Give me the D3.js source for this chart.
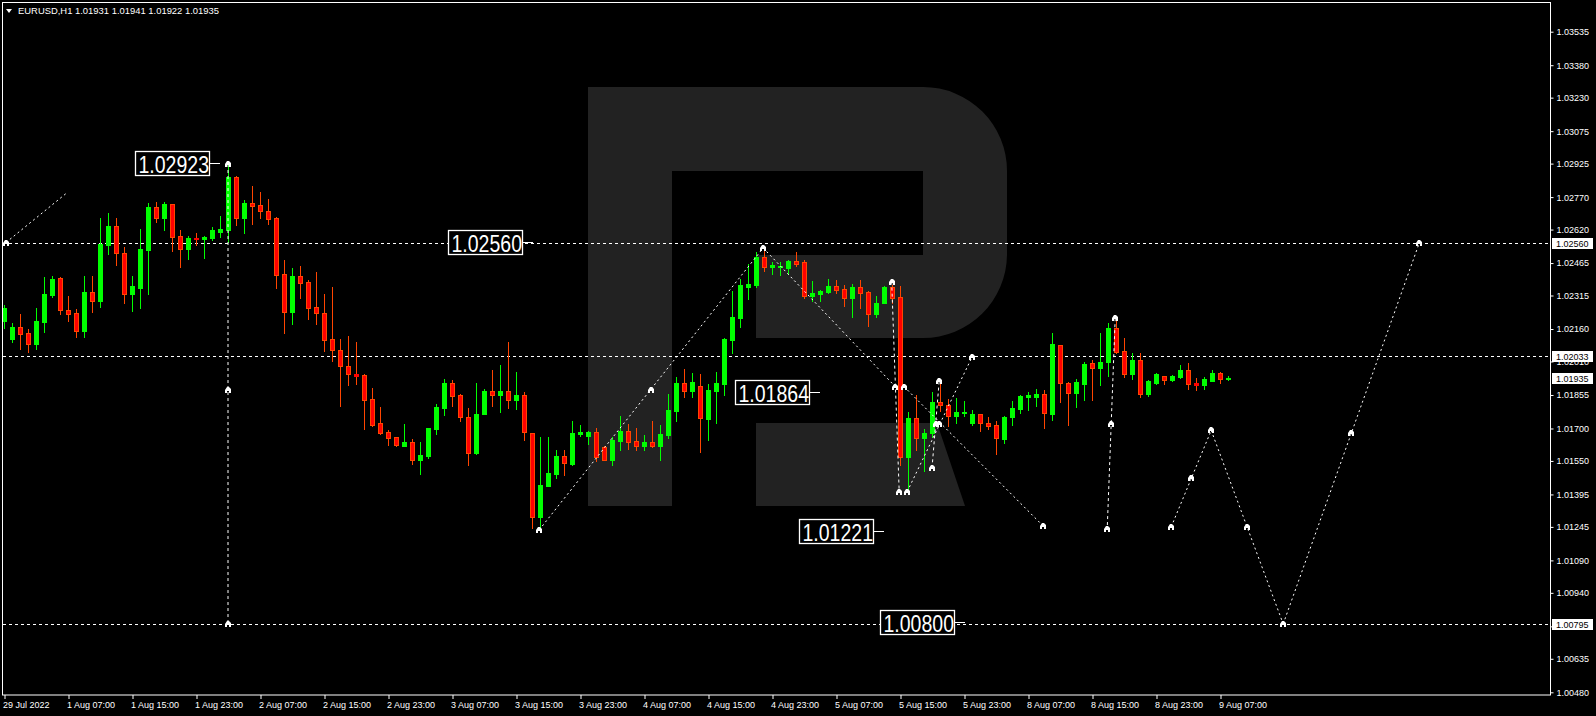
<!DOCTYPE html>
<html><head><meta charset="utf-8">
<script src="https://cdn.jsdelivr.net/npm/d3@7"></script>
<style>html,body{margin:0;padding:0;background:#000;overflow:hidden}</style>
</head><body>
<script>
// ---------- DATA ----------
const title = "EURUSD,H1  1.01931 1.01941 1.01922 1.01935";
const opens = [1.02199,1.02116,1.02170,1.02142,1.02092,1.02193,1.02318,1.02396,1.02248,1.02234,
1.02151,1.02332,1.02290,1.02550,1.02637,1.02511,1.02322,1.02351,1.02527,1.02725,
1.02675,1.02739,1.02591,1.02532,1.02581,1.02578,1.02581,1.02610,1.02618,1.02863,
1.02675,1.02743,1.02734,1.02706,1.02674,1.02415,1.02240,1.02406,1.02376,1.02261,
1.02233,1.02113,1.02063,1.01989,1.01952,1.01946,1.01837,1.01724,1.01684,1.01660,
1.01621,1.01638,1.01555,1.01574,1.01698,1.01796,1.01911,1.01855,1.01752,1.01588,
1.01769,1.01874,1.01857,1.01874,1.01833,1.01855,1.01679,1.01292,1.01436,1.01491,
1.01573,1.01537,1.01675,1.01667,1.01684,1.01615,1.01556,1.01642,1.01689,1.01642,
1.01621,1.01638,1.01621,1.01672,1.01781,1.01911,1.01875,1.01897,1.01746,1.01875,
1.01907,1.02111,1.02213,1.02356,1.02365,1.02493,1.02449,1.02447,1.02444,1.02475,
1.02470,1.02313,1.02322,1.02332,1.02359,1.02345,1.02304,1.02355,1.02332,1.02230,
1.02281,1.02355,1.02308,1.01568,1.01749,1.01656,1.01679,1.01823,1.01809,1.01758,
1.01772,1.01726,1.01767,1.01726,1.01716,1.01653,1.01752,1.01792,1.01847,1.01847,
1.01860,1.01769,1.02085,1.01912,1.01866,1.01907,1.02003,1.01981,1.02009,1.02165,
1.02057,1.01954,1.02017,1.01861,1.01912,1.01942,1.01926,1.01940,1.01972,1.01911,
1.01903,1.01921,1.01957,1.01931];
const highs = [1.02271,1.02188,1.02230,1.02160,1.02258,1.02402,1.02406,1.02401,1.02313,1.02253,
1.02406,1.02406,1.02674,1.02697,1.02674,1.02540,1.02406,1.02623,1.02745,1.02748,
1.02748,1.02739,1.02618,1.02591,1.02606,1.02591,1.02632,1.02683,1.02923,1.02866,
1.02757,1.02822,1.02794,1.02762,1.02676,1.02480,1.02443,1.02452,1.02387,1.02424,
1.02322,1.02355,1.02113,1.02128,1.02100,1.01951,1.01889,1.01800,1.01693,1.01662,
1.01721,1.01650,1.01639,1.01704,1.01815,1.01929,1.01926,1.01861,1.01794,1.01911,
1.01882,1.01972,1.01994,1.02100,1.01962,1.01868,1.01681,1.01661,1.01661,1.01599,
1.01601,1.01735,1.01716,1.01689,1.01702,1.01617,1.01661,1.01758,1.01721,1.01702,
1.01670,1.01735,1.01716,1.01860,1.01938,1.01975,1.01957,1.01952,1.01906,1.01962,
1.02119,1.02336,1.02392,1.02461,1.02517,1.02544,1.02470,1.02470,1.02477,1.02517,
1.02480,1.02382,1.02341,1.02392,1.02387,1.02364,1.02369,1.02387,1.02334,1.02313,
1.02359,1.02364,1.02359,1.01776,1.01855,1.01698,1.01869,1.01929,1.01837,1.01841,
1.01827,1.01786,1.01769,1.01753,1.01735,1.01758,1.01826,1.01853,1.01869,1.01883,
1.01878,1.02142,1.02088,1.01914,1.01929,1.02009,1.02017,1.02142,1.02188,1.02205,
1.02117,1.02049,1.02049,1.01925,1.01958,1.01944,1.01946,1.01994,1.02003,1.01935,
1.01940,1.01972,1.01959,1.01941];
const lows = [1.02165,1.02102,1.02068,1.02054,1.02068,1.02147,1.02308,1.02231,1.02199,1.02125,
1.02123,1.02239,1.02264,1.02507,1.02456,1.02281,1.02245,1.02259,1.02324,1.02657,
1.02618,1.02523,1.02449,1.02486,1.02550,1.02490,1.02572,1.02587,1.02563,1.02643,
1.02606,1.02647,1.02674,1.02647,1.02351,1.02143,1.02185,1.02305,1.02208,1.02185,
1.02060,1.02014,1.01806,1.01903,1.01907,1.01699,1.01713,1.01676,1.01625,1.01621,
1.01619,1.01537,1.01490,1.01562,1.01676,1.01764,1.01806,1.01735,1.01533,1.01584,
1.01767,1.01806,1.01778,1.01796,1.01792,1.01648,1.01241,1.01221,1.01434,1.01473,
1.01486,1.01533,1.01667,1.01630,1.01551,1.01555,1.01533,1.01601,1.01607,1.01602,
1.01602,1.01616,1.01556,1.01658,1.01735,1.01847,1.01847,1.01593,1.01647,1.01726,
1.01857,1.02051,1.02171,1.02301,1.02356,1.02430,1.02416,1.02412,1.02416,1.02453,
1.02304,1.02291,1.02290,1.02327,1.02327,1.02267,1.02216,1.02258,1.02174,1.02216,
1.02279,1.02281,1.01531,1.01400,1.01601,1.01504,1.01661,1.01781,1.01712,1.01726,
1.01758,1.01716,1.01689,1.01698,1.01582,1.01635,1.01718,1.01773,1.01787,1.01806,
1.01704,1.01741,1.01824,1.01718,1.01801,1.01833,1.01833,1.01903,1.01944,1.02051,
1.01940,1.01931,1.01847,1.01852,1.01907,1.01907,1.01921,1.01935,1.01884,1.01880,
1.01884,1.01919,1.01912,1.01922];
const closes = [1.02259,1.02170,1.02139,1.02092,1.02197,1.02322,1.02392,1.02250,1.02231,1.02151,
1.02332,1.02291,1.02554,1.02637,1.02513,1.02324,1.02359,1.02530,1.02725,1.02675,
1.02739,1.02587,1.02532,1.02581,1.02578,1.02586,1.02618,1.02623,1.02863,1.02675,
1.02743,1.02731,1.02706,1.02671,1.02412,1.02240,1.02406,1.02375,1.02259,1.02233,
1.02111,1.02065,1.01991,1.01954,1.01944,1.01833,1.01718,1.01681,1.01658,1.01623,
1.01638,1.01555,1.01578,1.01702,1.01800,1.01911,1.01852,1.01755,1.01588,1.01767,
1.01874,1.01857,1.01874,1.01833,1.01855,1.01683,1.01292,1.01439,1.01494,1.01573,
1.01542,1.01679,1.01684,1.01684,1.01570,1.01556,1.01647,1.01689,1.01639,1.01621,
1.01638,1.01621,1.01675,1.01786,1.01911,1.01875,1.01915,1.01750,1.01878,1.01911,
1.02114,1.02216,1.02364,1.02369,1.02493,1.02449,1.02456,1.02452,1.02475,1.02462,
1.02313,1.02327,1.02336,1.02359,1.02341,1.02304,1.02355,1.02327,1.02230,1.02281,
1.02355,1.02304,1.01568,1.01749,1.01656,1.01679,1.01823,1.01807,1.01758,1.01776,
1.01776,1.01767,1.01726,1.01712,1.01656,1.01752,1.01794,1.01851,1.01854,1.01860,
1.01773,1.02091,1.01912,1.01866,1.01915,1.01999,1.01979,1.02008,1.02165,1.02055,
1.01954,1.02017,1.01861,1.01920,1.01954,1.01926,1.01944,1.01972,1.01907,1.01903,
1.01928,1.01957,1.01931,1.01935];

const timeLabels = ["29 Jul 2022","1 Aug 07:00","1 Aug 15:00","1 Aug 23:00","2 Aug 07:00","2 Aug 15:00",
"2 Aug 23:00","3 Aug 07:00","3 Aug 15:00","3 Aug 23:00","4 Aug 07:00","4 Aug 15:00","4 Aug 23:00",
"5 Aug 07:00","5 Aug 15:00","5 Aug 23:00","8 Aug 07:00","8 Aug 15:00","8 Aug 23:00","9 Aug 07:00"];
const timeLabelBars = [0,8,16,24,32,40,48,56,64,72,80,88,96,104,112,120,128,136,144,152];

const priceTicks = [1.03535,1.03380,1.03230,1.03075,1.02925,1.02770,1.02620,1.02465,1.02315,1.02160,
1.02010,1.01855,1.01700,1.01550,1.01395,1.01245,1.01090,1.00940,1.00785,1.00635,1.00480];

const levelLines = [1.02560,1.02033,1.00795];
const axisMarks = [1.02560,1.02033,1.01935,1.00795];

const noteText  = ["1.02923","1.02560","1.01864","1.01221","1.00800"];
const noteBar   = [27,66.1,102,110,120.1];
const notePrice = [1.02923,1.02560,1.01864,1.01221,1.00800];

// forecast / wave segments (bar index, price)
const segFromBar   = [0.25,28,66.9,94.9,112.5,110.96,112.9,116.0,138.9,145.9,150.9,159.9];
const segFromPrice = [1.02560,1.02923,1.01231,1.02535,1.01894,1.02379,1.01408,1.01516,1.02210,1.01245,1.01691,1.00796];
const segToBar     = [7.8,28,94.9,111.4,129.9,111.9,121.0,116.9,137.9,150.9,159.9,176.9];
const segToPrice   = [1.02788,1.00795,1.02535,1.01894,1.01249,1.01408,1.02030,1.01921,1.01234,1.01691,1.00796,1.02557];

const markBar   = [0.3,28,28,28,66.9,80.9,94.9,110.96,111.4,112.5,111.9,112.9,116.9,121.0,116.5,116.9,116.0,
                   129.9,138.9,138.4,137.9,145.9,148.4,150.9,155.4,159.9,168.4,176.9];
const markPrice = [1.02560,1.02923,1.01878,1.00795,1.01231,1.01878,1.02535,1.02379,1.01894,1.01894,1.01408,1.01408,
                   1.01921,1.02030,1.01721,1.01721,1.01516,1.01249,1.02210,1.01721,1.01234,1.01245,1.01470,
                   1.01691,1.01243,1.00796,1.01678,1.02557];

// ---------- DRAW ----------
const W = 1596, H = 716;
const svg = d3.select("body").append("svg").attr("width", W).attr("height", H)
  .style("display","block");
svg.append("rect").attr("width", W).attr("height", H).attr("fill", "#000");

const x = d3.scaleLinear().domain([0, 153]).range([4, 1228]);
const y = d3.scaleLinear().domain([1.00480, 1.03535]).range([692.3, 31.7]);
const px = v => Math.round(x(v));
const py = v => Math.round(y(v));

// watermark logo
const wm = svg.append("g").attr("fill", "#222222");
wm.append("path").attr("d",
  "M588,87 H923 A84,84 0 0 1 1007,171 V255 A84,84 0 0 1 923,338 H756 V255 H923 V171 H672 V506 H588 Z");
wm.append("path").attr("d", "M756,423 H937 L965,506 H756 Z");

// level lines
svg.append("g").selectAll("line").data(levelLines).join("line")
  .attr("x1", 3).attr("x2", 1550)
  .attr("y1", d => py(d) + 0.5).attr("y2", d => py(d) + 0.5)
  .attr("stroke", "#fff").attr("stroke-width", 1).attr("stroke-dasharray", "3,3");

// candles
const candles = d3.range(opens.length).map(i => ({i, o: opens[i], h: highs[i], l: lows[i], c: closes[i]}));
const cg = svg.append("g").attr("shape-rendering", "crispEdges");
const bull = "#00ff00", bearFill = "#ff0000", bearLine = "#ff4500";
cg.selectAll("line.wick").data(candles).join("line").attr("class", "wick")
  .attr("x1", d => px(d.i) + 0.5).attr("x2", d => px(d.i) + 0.5)
  .attr("y1", d => py(d.h)).attr("y2", d => py(d.l) + 1)
  .attr("stroke", d => d.c >= d.o ? bull : bearLine);
cg.selectAll("rect.body").data(candles).join("rect").attr("class", "body")
  .attr("x", d => px(d.i) - 2)
  .attr("y", d => py(Math.max(d.o, d.c)))
  .attr("width", 5)
  .attr("height", d => Math.max(1, py(Math.min(d.o, d.c)) - py(Math.max(d.o, d.c)) + 1))
  .attr("fill", d => d.c >= d.o ? bull : bearFill);
cg.selectAll("rect.edge").data(candles.filter(d => d.c < d.o && py(d.c) - py(d.o) > 2)).join("rect")
  .attr("class", "edge")
  .attr("x", d => px(d.i) - 1.5).attr("y", d => py(d.o) + 0.5)
  .attr("width", 4).attr("height", d => py(d.c) - py(d.o))
  .attr("fill", "none").attr("stroke", bearLine);

// forecast segments
const segs = d3.range(segFromBar.length).map(k => ({
  x1: x(segFromBar[k]), y1: y(segFromPrice[k]), x2: x(segToBar[k]), y2: y(segToPrice[k])}));
svg.append("g").selectAll("line").data(segs).join("line")
  .attr("x1", d => d.x1).attr("y1", d => d.y1).attr("x2", d => d.x2).attr("y2", d => d.y2)
  .attr("stroke", "#fff").attr("stroke-width", 1)
  .attr("stroke-dasharray", d => Math.abs(d.x2 - d.x1) < 12 ? "3,3" : "2,3");

// markers
svg.append("g").selectAll("path").data(d3.range(markBar.length)).join("path")
  .attr("transform", k => `translate(${Math.round(x(markBar[k]))},${Math.round(y(markPrice[k]))})`)
  .attr("d", "M-3,3 L-3,0 L-1,-3 L1,-3 L3,-1 L3,3 L1,3 L1,1 L-1,1 L-1,3 Z")
  .attr("fill", "#fff");

// price notes
const notes = d3.range(noteText.length).map(k => ({t: noteText[k], ax: Math.round(x(noteBar[k])), ay: Math.round(y(notePrice[k]))}));
const ng = svg.append("g");
ng.selectAll("line").data(notes).join("line")
  .attr("x1", d => d.ax - 11).attr("x2", d => d.ax)
  .attr("y1", d => d.ay - 0.5).attr("y2", d => d.ay - 0.5)
  .attr("stroke", "#fff").attr("stroke-width", 1);
ng.selectAll("rect").data(notes).join("rect")
  .attr("x", d => d.ax - 84.5).attr("y", d => d.ay - 12.5)
  .attr("width", 74).attr("height", 24)
  .attr("fill", "#000").attr("stroke", "#fff").attr("stroke-width", 1.3);
ng.selectAll("text").data(notes).join("text")
  .attr("x", d => d.ax - 81.5).attr("y", d => d.ay + 8.5)
  .attr("textLength", 70.5).attr("lengthAdjust", "spacingAndGlyphs")
  .attr("fill", "#fff").style("font-family", "'Liberation Sans', Arial, sans-serif")
  .style("font-size", "23px").text(d => d.t);

// frame
svg.append("rect").attr("x", 2.5).attr("y", 2.5).attr("width", 1548).attr("height", 692.5)
  .attr("fill", "none").attr("stroke", "#fff").attr("stroke-width", 1);

// right price axis
const yAxis = d3.axisRight(y).tickValues(priceTicks).tickSize(3).tickPadding(3)
  .tickFormat(d3.format(".5f"));
const ya = svg.append("g").attr("transform", "translate(1550.5,0)").call(yAxis);
ya.select(".domain").remove();
ya.selectAll("line").attr("stroke", "#fff");
ya.selectAll("text").attr("fill", "#fff")
  .style("font-family", "'Liberation Sans', Arial, sans-serif").style("font-size", "9px");

// highlighted axis marks
const am = svg.append("g");
am.selectAll("rect").data(axisMarks).join("rect")
  .attr("x", 1552).attr("y", d => py(d) - 5).attr("width", 41).attr("height", 11).attr("fill", "#fff");
am.selectAll("text").data(axisMarks).join("text")
  .attr("x", 1556).attr("y", d => py(d) + 3.5)
  .attr("fill", "#000").style("font-family", "'Liberation Sans', Arial, sans-serif").style("font-size", "9px")
  .text(d => d3.format(".5f")(d));

// bottom time axis
const xAxis = d3.axisBottom(x).tickValues(timeLabelBars).tickSize(4).tickPadding(3)
  .tickFormat((d, k) => timeLabels[k]);
const xa = svg.append("g").attr("transform", "translate(0.5,695)").call(xAxis);
xa.select(".domain").remove();
xa.selectAll("line").attr("stroke", "#fff");
xa.selectAll("text").attr("fill", "#fff").attr("text-anchor", "start").attr("dx", -2)
  .style("font-family", "'Liberation Sans', Arial, sans-serif").style("font-size", "9px");

// title
svg.append("path").attr("d", "M6,9 L12,9 L9,13 Z").attr("fill", "#fff");
svg.append("text").attr("x", 18).attr("y", 14).attr("fill", "#fff")
  .style("font-family", "'Liberation Sans', Arial, sans-serif").style("font-size", "9px")
  .attr("textLength", 201).attr("lengthAdjust", "spacingAndGlyphs")
  .text(title);
</script>
</body></html>
